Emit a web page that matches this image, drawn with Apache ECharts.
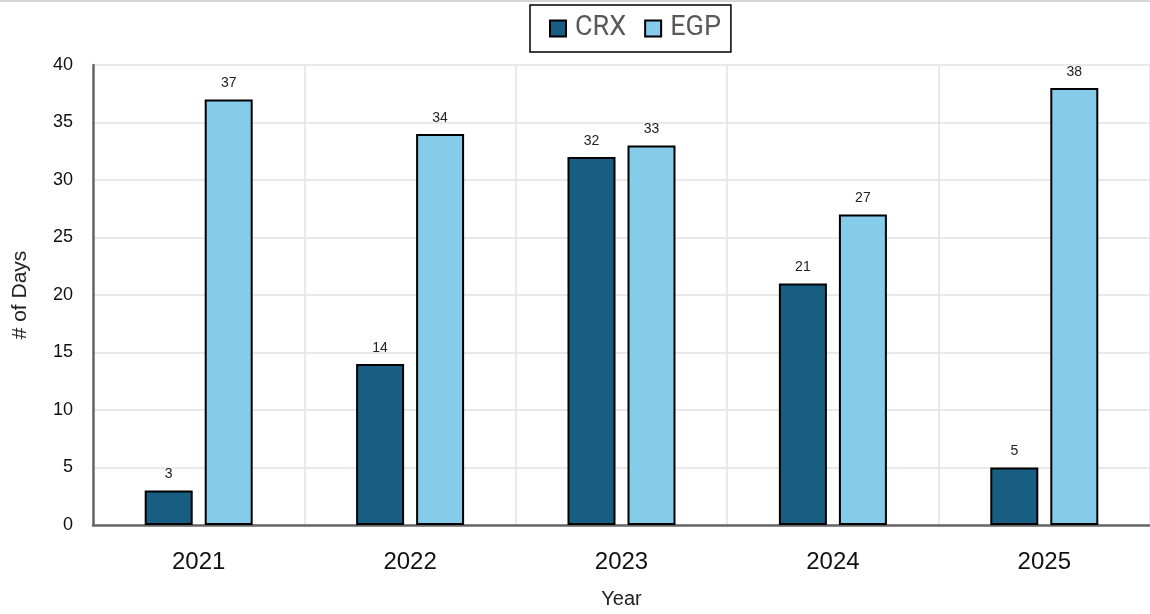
<!DOCTYPE html>
<html>
<head>
<meta charset="utf-8">
<script src="https://cdn.jsdelivr.net/npm/echarts@6/dist/echarts.min.js"></script>
<style>
html,body{margin:0;padding:0;background:#fff;}
#chart{width:1150px;height:614px;}
</style>
</head>
<body>
<div id="chart"></div>
<script>
const years = ['2021', '2022', '2023', '2024', '2025'];
const crx = [3, 14, 32, 21, 5];
const egp = [37, 34, 33, 27, 38];
const yTicks = { min: 0, max: 40, interval: 5 };

const chart = echarts.init(document.getElementById('chart'));
const labelCfg = {
  show: true, position: 'top', distance: 9,
  fontFamily: 'Liberation Sans, Arial, sans-serif', fontSize: 14, color: '#222'
};
chart.setOption({
  animation: false,
  backgroundColor: '#fff',
  graphic: [{
    type: 'line', shape: { x1: 0, y1: 1, x2: 1150, y2: 1 },
    style: { stroke: '#c8c8c8', lineWidth: 1.5 }
  }],
  legend: {
    left: 530, top: 5,
    data: ['CRX', 'EGP'],
    borderColor: '#000', borderWidth: 1.5, borderRadius: 0,
    padding: [10, 10, 10, 19],
    itemWidth: 16, itemHeight: 16, itemGap: 18,
    icon: 'rect',
    textStyle: { fontFamily: 'Roboto, sans-serif', fontSize: 27, color: '#595959', padding: [0, 0, 0, 4] }
  },
  grid: { left: 93, right: -4, top: 65, bottom: 89, containLabel: false },
  xAxis: {
    type: 'category', data: years,
    name: 'Year', nameLocation: 'middle', nameGap: 64,
    nameTextStyle: { fontFamily: 'Liberation Sans, Arial, sans-serif', fontSize: 20, color: '#222' },
    axisLine: { lineStyle: { color: '#666', width: 2.5 } },
    axisTick: { show: false },
    axisLabel: { fontFamily: 'Liberation Sans, Arial, sans-serif', fontSize: 24, color: '#111', margin: 25 },
    splitLine: { show: true, lineStyle: { color: '#e2e2e2', width: 1.5 } }
  },
  yAxis: {
    type: 'value', min: yTicks.min, max: yTicks.max, interval: yTicks.interval,
    name: '# of Days', nameLocation: 'middle', nameGap: 62, nameRotate: 90,
    nameTextStyle: { fontFamily: 'Liberation Sans, Arial, sans-serif', fontSize: 21, color: '#222' },
    axisLine: { show: true, lineStyle: { color: '#666', width: 2.5 } },
    axisTick: { show: false },
    axisLabel: { fontFamily: 'Liberation Sans, Arial, sans-serif', fontSize: 18, color: '#111', margin: 20 },
    splitLine: { show: true, lineStyle: { color: '#e2e2e2', width: 1.5 } }
  },
  series: [
    {
      name: 'CRX', type: 'bar', data: crx, barWidth: 48, barGap: '25%',
      itemStyle: { color: '#175E82', borderColor: '#000', borderWidth: 2 },
      label: labelCfg
    },
    {
      name: 'EGP', type: 'bar', data: egp, barWidth: 48, barGap: '25%',
      itemStyle: { color: '#85CBEA', borderColor: '#000', borderWidth: 2 },
      label: labelCfg
    }
  ]
});
</script>
</body>
</html>
